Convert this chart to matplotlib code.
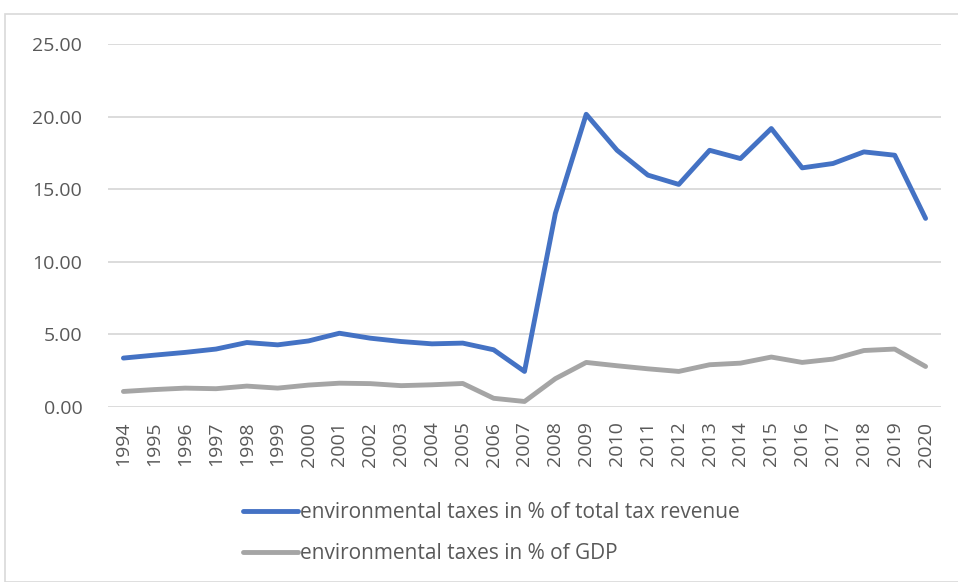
import matplotlib
matplotlib.use("Agg")
import matplotlib.pyplot as plt
from matplotlib.patches import Rectangle

years = [str(y) for y in range(1994, 2021)]
total_tax_revenue = [3.37, 3.57, 3.76, 3.99, 4.44, 4.28, 4.55, 5.08, 4.74, 4.51, 4.35, 4.40,
                     3.94, 2.45, 13.33, 20.16, 17.68, 15.97, 15.33, 17.68, 17.11, 19.18,
                     16.47, 16.77, 17.57, 17.34, 12.99]
gdp_share = [1.07, 1.20, 1.30, 1.26, 1.44, 1.30, 1.51, 1.64, 1.61, 1.47, 1.53, 1.62,
             0.60, 0.38, 1.95, 3.07, 2.84, 2.63, 2.45, 2.91, 3.02, 3.44,
             3.07, 3.30, 3.89, 3.99, 2.79]
label_total = "environmental taxes in % of total tax revenue"
label_gdp = "environmental taxes in % of GDP"
yticks = [0, 5, 10, 15, 20, 25]

plt.rcParams['font.family'] = ['Open Sans', 'DejaVu Sans']
txt = '#595959'

fig = plt.figure(figsize=(9.58, 5.82), dpi=100)
fig.patches.append(Rectangle((5/958, 0), 1.2, 1 - 14/582, transform=fig.transFigure,
                             fill=False, edgecolor='#D9D9D9', linewidth=1.2))
ax = fig.add_axes([108/958, 1 - 407/582, (941 - 108)/958, (407 - 44)/582])

x = list(range(len(years)))
l1, = ax.plot(x, total_tax_revenue, color='#4472C4', lw=3.5, solid_capstyle='round',
              solid_joinstyle='round', label=label_total, zorder=3)
l2, = ax.plot(x, gdp_share, color='#A5A5A5', lw=3.5, solid_capstyle='round',
              solid_joinstyle='round', label=label_gdp, zorder=3)

ax.set_xlim(-0.5, len(years) - 0.5)
ax.set_ylim(0, 25)
ax.set_yticks(yticks)
ax.set_yticklabels([f"{v:.2f}" for v in yticks], fontsize=14, color=txt)
ax.set_xticks(x)
ax.set_xticklabels(years, rotation=90, fontsize=14, color=txt)
ax.tick_params(length=0)
ax.tick_params(axis='y', pad=18.5)
ax.tick_params(axis='x', pad=10.5)
ax.grid(axis='y', color='#D9D9D9', lw=1.3)
ax.set_axisbelow(True)
for s in ax.spines.values():
    s.set_visible(False)

fig.legend(handles=[l1, l2], loc='upper left', bbox_to_anchor=(243/958, 1 - 502/582),
           frameon=False, fontsize=15, labelcolor=txt, handlelength=2.65,
           handletextpad=0.1, labelspacing=0.95, borderaxespad=0, borderpad=0)

fig.savefig("out.png", dpi=100)
